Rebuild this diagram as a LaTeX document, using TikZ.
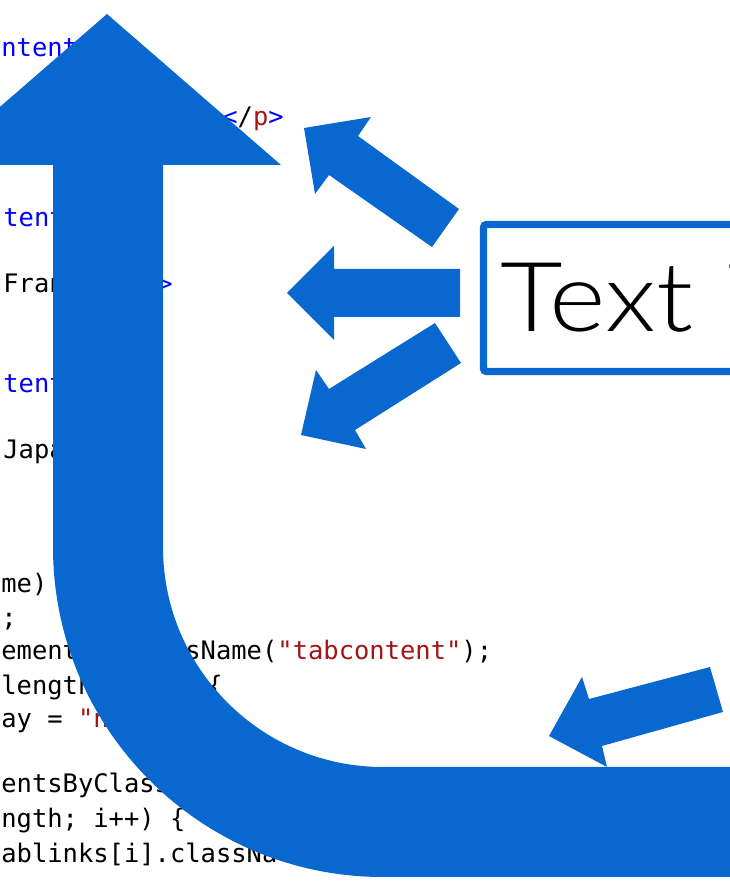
\documentclass[tikz,border=0pt]{standalone}
\usepackage{fontspec}
\setmonofont{DejaVu Sans Mono}
\newfontfamily\lightfont{Lato Light}
\usepackage{tikz}
\usepackage{xcolor}
\definecolor{arrowcol}{RGB}{9,103,208}
\definecolor{kwcol}{RGB}{0,0,255}
\definecolor{strcol}{RGB}{163,21,21}
\tikzstyle{bigarrow}=[fill=arrowcol,draw=none]
\tikzstyle{code}=[anchor=base west,inner sep=0,font=\ttfamily\fontsize{14.5}{16}\selectfont]
\tikzstyle{label}=[anchor=base west,inner sep=0,font=\lightfont\fontsize{55}{60}\selectfont]
\def\H{887}
\def\W{730}

\begin{document}
\begin{tikzpicture}[x=0.02cm,y=0.02cm]

  \useasboundingbox (0,0) rectangle (\W,\H);
  \clip (0,0) rectangle (\W,\H);

  % CODE
  \node[code,kwcol] (c1) at (1,{\H-57}) {ntent};
  \node[code] (c2) at (222,{\H-126}) {\textcolor{kwcol}{<}/\textcolor{strcol}{p}\textcolor{kwcol}{>}};
  \node[code,kwcol] (c3) at (3,{\H-227}) {tent};
  \node[code] (c4) at (3,{\H-293}) {Fran};
  \node[code,kwcol] (c4b) at (157,{\H-293}) {>};
  \node[code,kwcol] (c5) at (3,{\H-393}) {tent};
  \node[code] (c6) at (3,{\H-459}) {Japa};
  \node[code] (c7) at (1,{\H-593}) {me)};
  \node[code] (c8) at (1,{\H-627}) {;};
  \node[code] (c9) at (1,{\H-660}) {ementsByClassName(\textcolor{strcol}{"tabcontent"});};
  \node[code] (c10) at (1,{\H-695}) {length};
  \node[code] (c10b) at (207,{\H-695}) {\{};
  \node[code] (c11) at (1,{\H-728}) {ay = \textcolor{strcol}{"n}};
  \node[code] (c12) at (1,{\H-793}) {entsByClass};
  \node[code] (c13) at (1,{\H-828}) {ngth; i++) \{};
  \node[code] (c14) at (1,{\H-862}) {ablinks[i].classNa};

  % BIG ARROW
  \fill[bigarrow] (107,873) -- (281,722) -- (163,722) -- (163,340)
    arc[start angle=180,end angle=270,radius=220] -- (\W+10,120)
    -- (\W+10,10) -- (383,10)
    arc[start angle=270,end angle=180,radius=330] -- (53,722)
    -- (-67,722) -- cycle;

  % BOX
  \draw[arrowcol,line width=4pt,rounded corners=1.5pt] (483.5,662.5) rectangle (\W+20,515.5);
  \node[label] (txt) at (500,555) {\scalebox{1.12}[1]{Text i}};

  % SMALL ARROWS
  \fill[bigarrow] (459,678) -- (358,751) -- (371,770) -- (304,759)
    -- (315,693) -- (329,712) -- (432,640) -- cycle;
  \fill[bigarrow] (460,618) -- (334,618) -- (334,641) -- (287,594)
    -- (334,547) -- (334,570) -- (460,570) -- cycle;
  \fill[bigarrow] (435,564) -- (329,498) -- (316,517) -- (301,452)
    -- (366,438) -- (355,457) -- (461,524) -- cycle;
  \fill[bigarrow] (710,220) -- (589,188) -- (582,210) -- (549,151)
    -- (607,120) -- (602,141) -- (723,175) -- cycle;

\end{tikzpicture}
\end{document}
